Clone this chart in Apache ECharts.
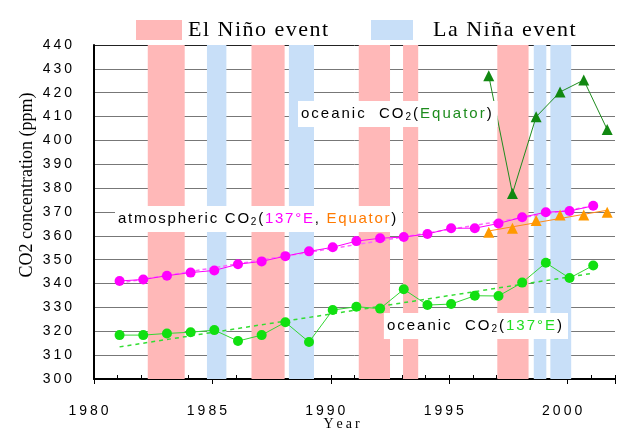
<!DOCTYPE html>
<html>
<head>
<meta charset="utf-8">
<script src="https://cdn.jsdelivr.net/npm/echarts@6/dist/echarts.min.js"></script>
<style>
  html, body { margin: 0; padding: 0; background: #fff; }
  #chart { width: 618px; height: 432px; }
</style>
</head>
<body>
<div id="chart"></div>
<script>
// Winter cruise sampling times along 137°E (decimal year)
const cruiseYears = [1981.08, 1982.08, 1983.08, 1984.08, 1985.08, 1986.08, 1987.08,
  1988.08, 1989.08, 1990.08, 1991.08, 1992.08, 1993.08, 1994.08, 1995.08, 1996.08,
  1997.08, 1998.08, 1999.08, 2000.08, 2001.08];
// Atmospheric CO2 at 137°E (ppm)
const atmos137E = [341.1, 341.7, 343.3, 344.6, 345.5, 348.1, 349.3, 351.5, 353.5, 355.2,
  357.8, 359.0, 359.5, 360.8, 363.2, 363.2, 365.2, 367.8, 369.9, 370.4, 372.6];
// Oceanic CO2 at 137°E (ppm)
const ocean137E = [318.4, 318.4, 319.1, 319.6, 320.5, 315.9, 318.4, 323.8, 315.5, 328.9,
  330.3, 329.5, 337.6, 331.0, 331.4, 334.9, 334.8, 340.4, 348.7, 342.3, 347.6];

// Equatorial cruises (decimal year)
const equatorYears = [1996.67, 1997.67, 1998.67, 1999.68, 2000.68, 2001.67];
const atmosEquator = [361.5, 363.2, 366.4, 368.7, 368.7, 369.9];
const oceanEquator = [427.1, 377.8, 409.9, 420.3, 425.3, 404.6];

// ENSO periods [start, end] in decimal years
const elNinoPeriods = [[1982.27, 1983.83], [1986.65, 1988.05], [1991.18, 1992.5],
  [1993.05, 1993.69], [1997.03, 1998.35]];
const laNinaPeriods = [[1984.77, 1985.59], [1988.23, 1989.29], [1998.57, 1999.1],
  [1999.27, 2000.15]];

const SANS = '"Liberation Sans", Arial, sans-serif';
const SERIF = '"Liberation Serif", "Times New Roman", serif';

const PINK_BAND = '#FFB8B8';
const BLUE_BAND = '#C8DFF8';

// least-squares straight line through a series, drawn between its first and last sample
function fitLine(xs, ys) {
  const n = xs.length;
  const mx = xs.reduce((a, b) => a + b, 0) / n;
  const my = ys.reduce((a, b) => a + b, 0) / n;
  let sxy = 0, sxx = 0;
  for (let i = 0; i < n; i++) {
    sxy += (xs[i] - mx) * (ys[i] - my);
    sxx += (xs[i] - mx) * (xs[i] - mx);
  }
  const k = sxy / sxx;
  return [[xs[0], my + k * (xs[0] - mx)], [xs[n - 1], my + k * (xs[n - 1] - mx)]];
}

// wrap each character in its own rich token so it gets extra tracking
function spaced(text, style) {
  return Array.from(text).map(ch => '{' + style + '|' + ch + '}').join('');
}
function richLine(parts) {
  return parts.map(([t, s]) => spaced(t, s)).join('');
}

const pairs = (xs, ys) => xs.map((x, i) => [x, ys[i]]);
const bands = periods => periods.map(([a, b]) => [{ xAxis: a }, { xAxis: b }]);

const tickRich = { t: { fontFamily: SANS, fontSize: 14, color: '#000', padding: [0, 3, 0, 0] } };

function noteRich(track) {
  const tok = fill => ({ fontFamily: SANS, fontSize: 15, fill: fill, padding: [0, track, 0, 0] });
  return {
    k: tok('#000'),
    s: { fontFamily: SANS, fontSize: 10, fill: '#000', padding: [6, track, 0, 0] },
    dg: tok('#1E8C1E'),
    mg: tok('#FF00FF'),
    or: tok('#FF7A00'),
    lg: tok('#22DD22')
  };
}

function note(parts, x, y, align, track) {
  return {
    type: 'text', x: x, y: y, z: 100,
    style: {
      text: richLine(parts), rich: noteRich(track), align: align, verticalAlign: 'middle',
      backgroundColor: '#fff', padding: [5, 4, 5, 3]
    }
  };
}

const legendRich = { g: { fontFamily: SERIF, fontSize: 22, color: '#000', padding: [0, 1.5, 0, 0] } };

const chart = echarts.init(document.getElementById('chart'), null, { renderer: 'canvas' });

const gridColors = [];
for (let v = 300; v <= 440; v += 10) gridColors.push(v === 440 ? '#222' : '#777');

chart.setOption({
  animation: false,
  backgroundColor: '#fff',
  grid: { left: 94, right: 0, top: 45, bottom: 53 },
  legend: [
    {
      data: [{ name: 'El Niño event', itemStyle: { color: PINK_BAND, borderWidth: 0 } }],
      left: 131, top: 14, itemWidth: 46, itemHeight: 20, icon: 'rect', selectedMode: false,
      formatter: n => spaced(n, 'g'),
      textStyle: { padding: [0, 0, 0, 1], rich: legendRich }
    },
    {
      data: [{ name: 'La Niña event', itemStyle: { color: BLUE_BAND, borderWidth: 0 } }],
      left: 366, top: 14, itemWidth: 42, itemHeight: 20, icon: 'rect', selectedMode: false,
      formatter: n => spaced(n, 'g'),
      textStyle: { padding: [0, 0, 0, 15], rich: legendRich }
    }
  ],
  xAxis: [
    {
      type: 'value', min: 1980, max: 2002, interval: 1,
      axisLine: { lineStyle: { color: '#000', width: 2 } },
      axisTick: { inside: true, length: 4, lineStyle: { color: '#000' } },
      axisLabel: {
        margin: 25,
        padding: [0, 8, 0, 0],
        formatter: v => (v % 5 === 0 ? spaced(String(v), 't') : ''),
        rich: tickRich
      },
      splitLine: { show: false }
    },
    {
      type: 'value', min: 1980, max: 2002, interval: 5, position: 'bottom',
      axisLine: { show: false },
      axisTick: { length: 5, lineStyle: { color: '#000' } },
      axisLabel: { show: false },
      splitLine: { show: false }
    }
  ],
  yAxis: {
    type: 'value', min: 300, max: 440, interval: 10,
    axisLine: { show: true, lineStyle: { color: '#000', width: 2 } },
    axisTick: { show: false },
    axisLabel: { margin: 19, formatter: v => spaced(String(v), 't'), rich: tickRich },
    splitLine: { lineStyle: { color: gridColors, width: 1 } }
  },
  series: [
    {
      name: 'El Niño event', type: 'line', data: [], z: -1, color: PINK_BAND,
      markArea: { silent: true, itemStyle: { color: PINK_BAND }, data: bands(elNinoPeriods) }
    },
    {
      name: 'La Niña event', type: 'line', data: [], z: -1, color: BLUE_BAND,
      markArea: { silent: true, itemStyle: { color: BLUE_BAND }, data: bands(laNinaPeriods) }
    },
    {
      name: 'atmos 137E trend', type: 'line', data: fitLine(cruiseYears, atmos137E),
      showSymbol: false, lineStyle: { color: '#FF66FF', width: 1.5, type: [4, 3] }, z: 3
    },
    {
      name: 'ocean 137E trend', type: 'line', data: fitLine(cruiseYears, ocean137E),
      showSymbol: false, lineStyle: { color: '#33DD33', width: 1.5, type: [4, 4] }, z: 3
    },
    {
      name: 'atmos Equator trend', type: 'line', data: fitLine(equatorYears, atmosEquator),
      showSymbol: false, lineStyle: { color: '#FF8A1A', width: 1 }, z: 3
    },
    {
      name: 'atmospheric CO2 137E', type: 'line', data: pairs(cruiseYears, atmos137E),
      symbol: 'circle', symbolSize: 10, lineStyle: { color: '#FF00FF', width: 1 },
      itemStyle: { color: '#FF00FF', borderWidth: 0 }, z: 5
    },
    {
      name: 'oceanic CO2 137E', type: 'line', data: pairs(cruiseYears, ocean137E),
      symbol: 'circle', symbolSize: 10, lineStyle: { color: '#33D633', width: 1 },
      itemStyle: { color: '#11E011', borderWidth: 0 }, z: 5
    },
    {
      name: 'atmospheric CO2 Equator', type: 'line', data: pairs(equatorYears, atmosEquator),
      symbol: 'triangle', symbolSize: 11, lineStyle: { width: 0 },
      itemStyle: { color: '#FF9900', borderWidth: 0 }, z: 5
    },
    {
      name: 'oceanic CO2 Equator', type: 'line', data: pairs(equatorYears, oceanEquator),
      symbol: 'triangle', symbolSize: 11, lineStyle: { color: '#1E8C1E', width: 1 },
      itemStyle: { color: '#118811', borderWidth: 0 }, z: 5
    }
  ],
  graphic: [
    note([['oceanic  CO', 'k'], ['2', 's'], ['(', 'k'], ['Equator', 'dg'], [')', 'k']], 298, 114, 'left', 2),
    note([['atmospheric CO', 'k'], ['2', 's'], ['(', 'k'], ['137°E', 'mg'], [', ', 'k'],
          ['Equator', 'or'], [')', 'k']], 115, 219, 'left', 1.75),
    note([['oceanic  CO', 'k'], ['2', 's'], ['(', 'k'], ['137°E', 'lg'], [')', 'k']], 568, 326, 'right', 2),
    {
      type: 'text', x: 27, y: 185, rotation: Math.PI / 2, z: 100,
      style: {
        text: 'CO2 concentration (ppm)', fontFamily: SERIF, fontSize: 18, fill: '#000',
        align: 'center', verticalAlign: 'middle'
      }
    },
    {
      type: 'text', x: 343, y: 424, z: 100,
      style: {
        text: spaced('Year', 'y'), rich: { y: { fontFamily: SERIF, fontSize: 14, fill: '#000', padding: [0, 3, 0, 0] } },
        align: 'center', verticalAlign: 'middle'
      }
    }
  ]
});
</script>
</body>
</html>
